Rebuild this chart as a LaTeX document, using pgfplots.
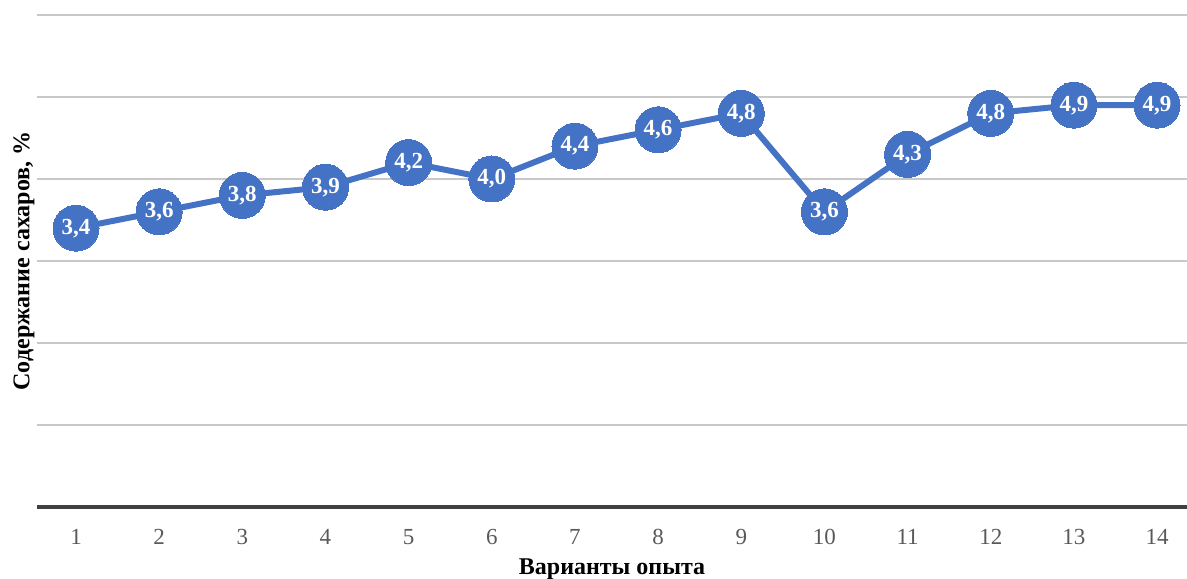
\documentclass[border=0pt]{standalone}
\usepackage{pgfplots}
\pgfplotsset{compat=1.18}
\usepackage{fontspec}
\setmainfont{Liberation Serif}
\definecolor{serblue}{HTML}{4472C4}
\definecolor{gridgray}{HTML}{C8C8C8}
\definecolor{axisdark}{HTML}{404040}
\definecolor{tickgray}{HTML}{595959}
\begin{document}
\begin{tikzpicture}
\begin{axis}[
  name=ax,
  scale only axis,
  width=575pt, height=246pt,
  xmin=0.531, xmax=14.36,
  ymin=0, ymax=6,
  axis line style={draw=none},
  xtick={1,...,14},
  ytick={1,...,6},
  yticklabel=\empty,
  major tick length=0pt,
  ymajorgrids,
  grid style={gridgray, line width=1pt},
  extra y ticks={0},
  extra y tick labels={},
  extra y tick style={grid style={axisdark, line width=1.6pt}},
  /pgf/number format/assume math mode=true,
  xticklabel style={font=\fontsize{11.5}{13}\selectfont, text=tickgray, anchor=center, yshift=-15pt},
  xlabel={Варианты опыта},
  ylabel={Содержание сахаров, \%},
  every axis x label/.style={at={(axis description cs:0.5,0)}, anchor=center, yshift=-31pt, font=\bfseries\fontsize{12}{14}\selectfont},
  every axis y label/.style={at={(axis description cs:0,0.5)}, xshift=-6.5pt, rotate=90, anchor=center, font=\bfseries\fontsize{12}{14}\selectfont},
  clip=false,
]
\addplot[serblue, line width=3pt, mark=*, mark size=11.5pt,
  mark options={fill=serblue, draw=serblue, line width=0pt},
  point meta=explicit symbolic,
  nodes near coords,
  nodes near coords style={anchor=center, text=white, font=\bfseries\fontsize{11.5}{13}\selectfont, inner sep=0pt},
] table[meta=l] {
x y l
1 3.4 3,4
2 3.6 3,6
3 3.8 3,8
4 3.9 3,9
5 4.2 4,2
6 4.0 4,0
7 4.4 4,4
8 4.6 4,6
9 4.8 4,8
10 3.6 3,6
11 4.3 4,3
12 4.8 4,8
13 4.9 4,9
14 4.9 4,9
};
\end{axis}
\pgfresetboundingbox
\path[use as bounding box] ([xshift=-18.5pt,yshift=-36pt]ax.south west) rectangle ([yshift=7.5pt]ax.north east);
\end{tikzpicture}
\end{document}
